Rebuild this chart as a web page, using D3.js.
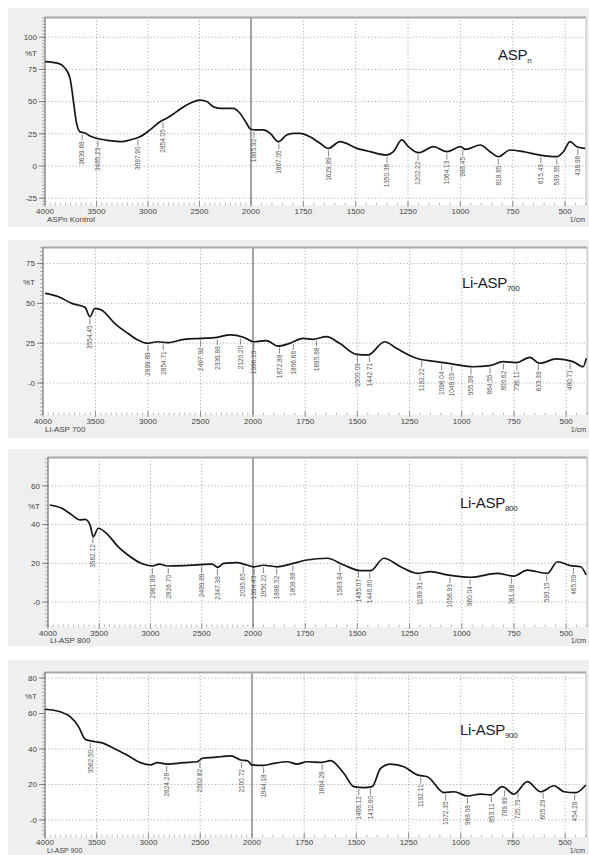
<!DOCTYPE html>
<html>
<head>
<meta charset="utf-8">
<script src="https://cdn.jsdelivr.net/npm/d3@7"></script>
<style>
  body { margin: 0; background: #fff; }
  svg { display: block; font-family: "Liberation Sans", Arial, sans-serif; }
</style>
</head>
<body>
<svg id="chart" width="589" height="855"></svg>
<script>
// ---- data (wavenumber 1/cm, %T) ----
const xTicks = [4000, 3500, 3000, 2500, 2000, 1750, 1500, 1250, 1000, 750, 500];

// ASPn control
const wn1 = [4000, 3871, 3806, 3757, 3725, 3700, 3660, 3612, 3563, 3500, 3369, 3272, 3175, 3078, 2981, 2883, 2819, 2722, 2625, 2495, 2430, 2366, 2301, 2172, 2107, 2042, 2003, 1973, 1941, 1909, 1869, 1830, 1798, 1766, 1718, 1670, 1630, 1575, 1494, 1431, 1352, 1320, 1280, 1248, 1200, 1128, 1064, 1000, 976, 905, 858, 818, 763, 700, 620, 540, 508, 476, 444, 404];
const t1 = [81, 79.7, 76, 68, 51, 36, 26.6, 25.6, 23.3, 21.5, 19.7, 18.9, 20.2, 22.7, 28, 34.4, 37, 42.2, 47.4, 51.2, 50, 46, 44.8, 44.8, 41, 33, 28.5, 28, 28, 25.4, 18.9, 24, 25.4, 25.4, 22.7, 17.6, 13.7, 18.9, 13.7, 11.1, 8.5, 11.1, 20.2, 15, 10.3, 15, 11.1, 15, 12.9, 16.3, 11.1, 7.2, 12.4, 11.1, 8.5, 7.2, 11.1, 18.9, 15, 13.7];
const peaks1 = [3639.68, 3485.23, 3097.90, 2854.05, 1985.92, 1867.05, 1629.89, 1350.38, 1202.22, 1064.13, 988.45, 818.85, 615.43, 539.35, 438.98];

// Li-ASP 700
const wn2 = [3980, 3852, 3726, 3600, 3553, 3506, 3443, 3318, 3192, 3097, 3003, 2909, 2814, 2657, 2500, 2343, 2217, 2091, 1997, 1936, 1880, 1824, 1760, 1713, 1649, 1585, 1505, 1449, 1369, 1313, 1217, 1121, 1042, 946, 866, 802, 738, 674, 627, 547, 467, 419, 403];
const t2 = [56.3, 54.2, 50, 47.5, 41.6, 46.9, 45.9, 37.5, 31.2, 27, 24.9, 25.9, 25.3, 27.4, 28, 28.7, 30.2, 28.7, 25.9, 26.6, 23.2, 24.9, 28, 27.4, 29.1, 24.9, 18, 17.6, 25.9, 21.8, 15.5, 13.4, 11.9, 10.2, 10.9, 13.4, 12.8, 16.1, 12.4, 15.1, 13.4, 10.2, 15.5];
const peaks2 = [3554.45, 2999.89, 2854.71, 2497.92, 2339.88, 2120.20, 1996.19, 1872.88, 1806.68, 1695.88, 1500.03, 1442.71, 1192.22, 1096.04, 1048.03, 955.98, 864.55, 800.62, 736.11, 633.39, 480.71];

// Li-ASP 800
const wn3 = [3983, 3864, 3768, 3687, 3638, 3590, 3558, 3510, 3413, 3317, 3220, 3092, 2979, 2915, 2834, 2674, 2512, 2399, 2345, 2287, 2158, 2061, 1997, 1949, 1885, 1821, 1741, 1645, 1565, 1485, 1437, 1373, 1293, 1213, 1150, 1070, 957, 830, 750, 686, 590, 542, 479, 431, 404];
const t3 = [50.1, 48.4, 45, 42.4, 42.7, 39.8, 33.7, 38.1, 34.6, 28.6, 24.3, 20, 18.6, 19.6, 18.6, 18.8, 19.3, 19.6, 17.9, 20, 20.3, 19.1, 18.2, 19, 18.2, 19.6, 21.7, 22.6, 19.1, 16.2, 16.2, 22.6, 18.2, 14.8, 15.7, 14, 12.8, 14.8, 13.4, 16.5, 14.8, 20.8, 18.8, 18.2, 14];
const peaks3 = [3562.12, 2981.89, 2826.70, 2499.89, 2347.38, 2095.65, 1994.43, 1950.22, 1886.52, 1808.88, 1583.84, 1495.07, 1440.80, 1199.91, 1056.93, 960.04, 761.98, 593.15, 465.09];

// Li-ASP 900
const wn4 = [4000, 3854, 3757, 3676, 3612, 3570, 3515, 3434, 3337, 3208, 3078, 2981, 2916, 2819, 2657, 2528, 2479, 2366, 2204, 2107, 2042, 2003, 1944, 1896, 1832, 1784, 1736, 1664, 1624, 1560, 1512, 1464, 1424, 1384, 1336, 1272, 1208, 1160, 1080, 1032, 968, 905, 857, 801, 745, 681, 617, 553, 505, 449, 401];
const t4 = [62.4, 61, 58.2, 52.6, 45.5, 44.7, 44.1, 43.2, 40.4, 36.6, 32.3, 31, 32.3, 31.5, 32.3, 32.8, 34.8, 35.3, 36.1, 33.8, 33.4, 31, 30.8, 31.9, 32.8, 31.5, 32.8, 32.5, 33.4, 26.3, 18.8, 18.2, 18.8, 29.1, 31.5, 30, 25.4, 24.4, 15.4, 15.9, 13.5, 14.6, 14.1, 18.8, 14.6, 21.6, 15.9, 19.3, 15.9, 15.4, 19.7];
const peaks4 = [3562.50, 2824.28, 2502.82, 2100.72, 1944.18, 1664.28, 1488.12, 1432.60, 1192.11, 1072.35, 968.08, 853.11, 789.89, 725.79, 605.29, 454.28];

// ---- layout per panel ----
const panels = [
  { name: "ASP", sub: "n", caption: "ASPn Kontrol", wn: wn1, t: t1, peaks: peaks1,
    bg: [8, 227], frame: { left: 45, split: 251, right: 586, top: 17, bottom: 205 },
    yDomain: [-30.3, 115.7], yTicks: [-25, 0, 25, 50, 75, 100], zeroLabel: "0", pctT: 87.5,
    title: [498, 60], labDy: 9, capDy: 17, capSize: 8 },
  { name: "Li-ASP", sub: "700", caption: "Li-ASP 700", wn: wn2, t: t2, peaks: peaks2,
    bg: [240, 438], frame: { left: 43, split: 253, right: 587, top: 247, bottom: 415 },
    yDomain: [-20.1, 85.4], yTicks: [0, 25, 50, 75], zeroLabel: "-0", pctT: 63.4,
    title: [462, 288], labDy: 9, capDy: 17, capSize: 8 },
  { name: "Li-ASP", sub: "800", caption: "Li-ASP 800", wn: wn3, t: t3, peaks: peaks3,
    bg: [449, 646], frame: { left: 48, split: 253, right: 587, top: 457, bottom: 627 },
    yDomain: [-12.9, 74.9], yTicks: [0, 20, 40, 60], zeroLabel: "-0", pctT: 49.6,
    title: [460, 508], labDy: 9, capDy: 16, capSize: 8 },
  { name: "Li-ASP", sub: "900", caption: "Li-ASP 900", wn: wn4, t: t4, peaks: peaks4,
    bg: [660, 860], frame: { left: 45, split: 252, right: 586, top: 672, bottom: 837 },
    yDomain: [-9.6, 83.4], yTicks: [0, 20, 40, 60, 80], zeroLabel: "-0", pctT: 69.9,
    title: [460, 735], labDy: 8, capDy: 15.5, capSize: 7 },
];

const svg = d3.select("#chart");
panels.forEach((p) => drawPanel(svg, p));

function drawPanel(svg, p) {
  const f = p.frame;
  const x = d3.scaleLinear().domain([4000, 2000, 400]).range([f.left, f.split, f.right]);
  const y = d3.scaleLinear().domain(p.yDomain).range([f.bottom, f.top]);
  const g = svg.append("g");

  // grey panel
  g.append("rect")
    .attr("x", 8).attr("y", p.bg[0])
    .attr("width", 581).attr("height", p.bg[1] - p.bg[0])
    .attr("fill", "#efefef");
  g.append("rect")
    .attr("x", f.left).attr("y", f.top)
    .attr("width", f.right - f.left).attr("height", f.bottom - f.top)
    .attr("fill", "#fff");

  // grid
  g.selectAll(".vgrid")
    .data(xTicks.filter((d) => d !== 2000))
    .join("line")
    .attr("x1", (d) => x(d)).attr("x2", (d) => x(d))
    .attr("y1", f.top).attr("y2", f.bottom)
    .attr("stroke", "#9a9a9a").attr("stroke-width", 0.8)
    .attr("stroke-dasharray", "1.2,2.2");
  g.selectAll(".hgrid")
    .data(p.yTicks)
    .join("line")
    .attr("x1", f.left).attr("x2", f.right)
    .attr("y1", (d) => y(d)).attr("y2", (d) => y(d))
    .attr("stroke", "#9a9a9a").attr("stroke-width", 0.8)
    .attr("stroke-dasharray", "1.2,2.2");
  // split line at 2000
  g.append("line")
    .attr("x1", x(2000)).attr("x2", x(2000))
    .attr("y1", f.top).attr("y2", f.bottom)
    .attr("stroke", "#808080").attr("stroke-width", 1.4);

  // frame
  g.append("line").attr("x1", f.left).attr("x2", f.right).attr("y1", f.top + 0.5).attr("y2", f.top + 0.5)
    .attr("stroke", "#a8a8a8").attr("stroke-width", 2);
  g.append("line").attr("x1", f.right).attr("x2", f.right).attr("y1", f.top).attr("y2", f.bottom)
    .attr("stroke", "#c0c0c0").attr("stroke-width", 1);
  g.append("line").attr("x1", f.left).attr("x2", f.left).attr("y1", f.top).attr("y2", f.bottom)
    .attr("stroke", "#666").attr("stroke-width", 1);

  // left minor ticks
  const step = (p.yTicks[1] - p.yTicks[0]) / 10;
  const minorY = d3.range(Math.ceil(p.yDomain[0] / step) * step, p.yDomain[1], step);
  g.selectAll(".ymin")
    .data(minorY)
    .join("line")
    .attr("x1", f.left - 3).attr("x2", f.left)
    .attr("y1", (d) => y(d)).attr("y2", (d) => y(d))
    .attr("stroke", "#888").attr("stroke-width", 0.6);
  g.selectAll(".ymaj")
    .data(p.yTicks)
    .join("line")
    .attr("x1", f.left - 6).attr("x2", f.left)
    .attr("y1", (d) => y(d)).attr("y2", (d) => y(d))
    .attr("stroke", "#666").attr("stroke-width", 0.8);
  g.selectAll(".ylab")
    .data(p.yTicks)
    .join("text")
    .attr("x", f.left - 8).attr("y", (d) => y(d) + 2.8)
    .attr("text-anchor", "end")
    .attr("font-size", 8).attr("fill", "#444")
    .text((d) => (d === 0 ? p.zeroLabel : d));
  g.append("text")
    .attr("x", f.left - 8).attr("y", y(p.pctT) + 2.8)
    .attr("text-anchor", "end")
    .attr("font-size", 8).attr("fill", "#444")
    .text("%T");

  // bottom minor ticks
  const minorX = d3.range(4000, 399, -50);
  g.selectAll(".xmin")
    .data(minorX)
    .join("line")
    .attr("x1", (d) => x(d)).attr("x2", (d) => x(d))
    .attr("y1", f.bottom - 2.5).attr("y2", f.bottom)
    .attr("stroke", "#999").attr("stroke-width", 0.7);
  g.selectAll(".xmaj")
    .data(xTicks)
    .join("line")
    .attr("x1", (d) => x(d)).attr("x2", (d) => x(d))
    .attr("y1", f.bottom - 4).attr("y2", f.bottom + 2)
    .attr("stroke", "#888").attr("stroke-width", 0.8);
  g.selectAll(".xlab")
    .data(xTicks)
    .join("text")
    .attr("x", (d) => x(d)).attr("y", f.bottom + p.labDy)
    .attr("text-anchor", "middle")
    .attr("font-size", 8).attr("fill", "#444")
    .text((d) => d);
  g.append("text")
    .attr("x", f.left + 2).attr("y", f.bottom + p.capDy)
    .attr("font-size", p.capSize).attr("fill", "#444")
    .text(p.caption);
  g.append("text")
    .attr("x", f.right - 1).attr("y", f.bottom + p.capDy)
    .attr("text-anchor", "end")
    .attr("font-size", 7).attr("fill", "#444")
    .text("1/cm");

  // spectrum
  const pts = p.wn.map((w, i) => [x(w), y(p.t[i])]);
  g.append("path")
    .attr("d", d3.line().curve(d3.curveMonotoneX)(pts))
    .attr("fill", "none")
    .attr("stroke", "#151515")
    .attr("stroke-width", 1.7)
    .attr("stroke-linejoin", "round");

  // peak labels
  const valueAt = (w) => {
    for (let i = 0; i < p.wn.length - 1; i++) {
      const a = p.wn[i], b = p.wn[i + 1];
      if (w <= a && w >= b) {
        const k = (a - w) / (a - b);
        return p.t[i] + k * (p.t[i + 1] - p.t[i]);
      }
    }
    return p.t[p.t.length - 1];
  };
  const pk = g.selectAll(".peak").data(p.peaks).join("g")
    .attr("transform", (d) => `translate(${x(d)},${y(valueAt(d))})`);
  pk.append("line")
    .attr("x1", 0).attr("x2", 0).attr("y1", 2).attr("y2", 8)
    .attr("stroke", "#555").attr("stroke-width", 0.7);
  pk.append("text")
    .attr("transform", "translate(2.3,9) rotate(-90)")
    .attr("text-anchor", "end")
    .attr("font-size", 6.5).attr("fill", "#555")
    .text((d) => d.toFixed(2));

  // sample title
  const title = g.append("text")
    .attr("x", p.title[0]).attr("y", p.title[1])
    .attr("font-size", 15).attr("fill", "#1c1c2a")
    .attr("letter-spacing", -0.3);
  title.append("tspan").text(p.name);
  title.append("tspan").attr("font-size", 8).attr("dy", 3).text(p.sub);
}
</script>
</body>
</html>
